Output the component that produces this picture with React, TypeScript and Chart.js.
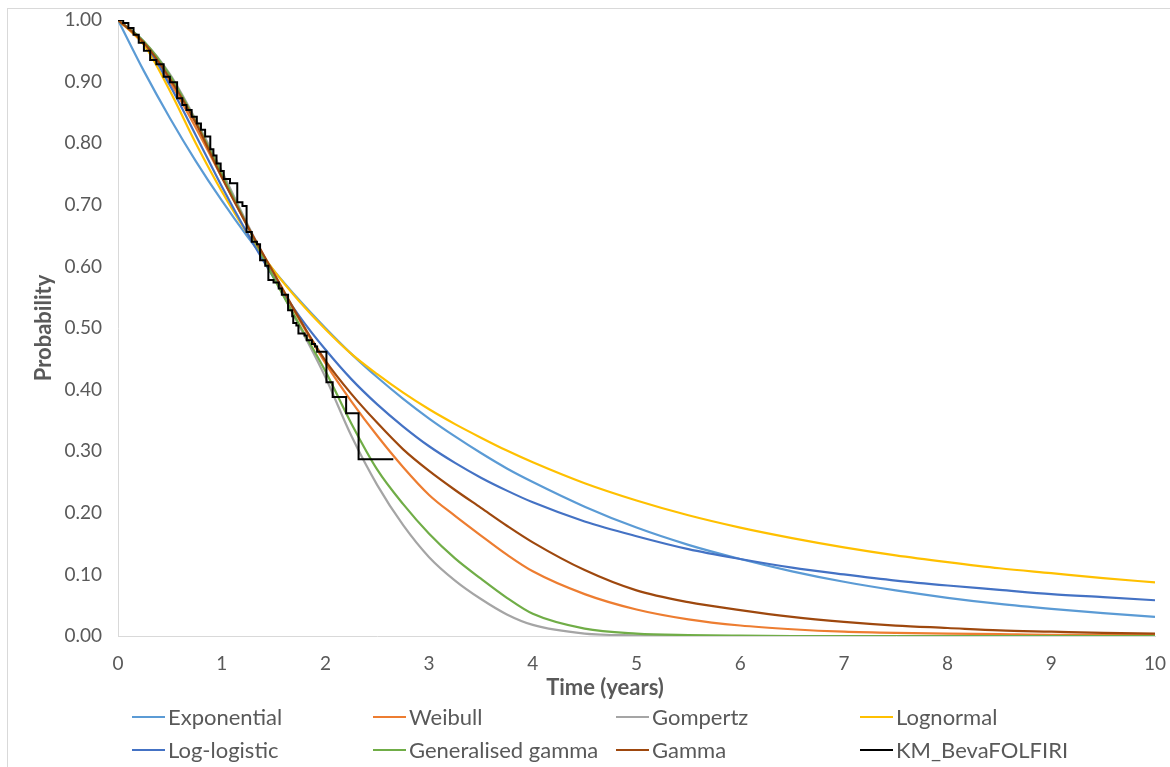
import React, { useEffect, useRef } from "react";
import { Chart, registerables } from "chart.js";

Chart.register(...registerables);

const FONT = "Lato, 'Open Sans', sans-serif";
const TEXT_COLOR = "#595959";

// Time grid (years) at which the fitted curves were read
const timeGrid = [0, 0.25, 0.5, 0.75, 1, 1.25, 1.5, 1.75, 2, 2.25, 2.5, 2.75, 3, 3.25, 3.5, 3.75, 4, 4.5, 5, 5.5, 6, 6.5, 7, 7.5, 8, 8.5, 9, 9.5, 10];

const exponential = [1, 0.917, 0.841, 0.771, 0.707, 0.648, 0.594, 0.545, 0.5, 0.458, 0.42, 0.385, 0.353, 0.324, 0.297, 0.272, 0.25, 0.21, 0.176, 0.148, 0.125, 0.105, 0.088, 0.074, 0.062, 0.052, 0.044, 0.037, 0.031];
const weibull = [1, 0.96, 0.9, 0.825, 0.745, 0.665, 0.588, 0.513, 0.443, 0.381, 0.325, 0.274, 0.229, 0.195, 0.163, 0.132, 0.105, 0.068, 0.043, 0.027, 0.017, 0.011, 0.007, 0.005, 0.004, 0.003, 0.002, 0.002, 0.002];
const gompertz = [1, 0.965, 0.912, 0.838, 0.755, 0.668, 0.585, 0.503, 0.42, 0.325, 0.245, 0.18, 0.128, 0.09, 0.06, 0.035, 0.018, 0.004, 0.001, 0, 0, 0, 0, 0, 0, 0, 0, 0, 0];
const lognormal = [1, 0.96, 0.885, 0.8, 0.722, 0.653, 0.594, 0.543, 0.498, 0.458, 0.425, 0.395, 0.368, 0.344, 0.322, 0.301, 0.282, 0.248, 0.22, 0.196, 0.176, 0.159, 0.144, 0.131, 0.12, 0.11, 0.102, 0.094, 0.087];
const logLogistic = [1, 0.964, 0.894, 0.813, 0.73, 0.653, 0.582, 0.519, 0.465, 0.417, 0.376, 0.34, 0.308, 0.281, 0.257, 0.236, 0.217, 0.186, 0.162, 0.141, 0.125, 0.111, 0.1, 0.09, 0.082, 0.075, 0.068, 0.063, 0.058];
const generalisedGamma = [1, 0.965, 0.91, 0.835, 0.75, 0.665, 0.582, 0.505, 0.43, 0.345, 0.27, 0.214, 0.166, 0.126, 0.093, 0.062, 0.036, 0.012, 0.004, 0.0015, 0.0005, 0, 0, 0, 0, 0, 0, 0, 0];
const gamma = [1, 0.963, 0.905, 0.833, 0.745, 0.665, 0.59, 0.515, 0.447, 0.393, 0.346, 0.303, 0.268, 0.237, 0.208, 0.179, 0.152, 0.107, 0.074, 0.055, 0.042, 0.031, 0.023, 0.017, 0.013, 0.009, 0.007, 0.005, 0.004];

// Kaplan-Meier step function (event times, survival after event)
const kmTimes = [0, 0.05, 0.1, 0.15, 0.2, 0.25, 0.31, 0.37, 0.44, 0.5, 0.57, 0.62, 0.66, 0.71, 0.76, 0.8, 0.84, 0.89, 0.92, 0.95, 0.99, 1.02, 1.08, 1.15, 1.2, 1.24, 1.29, 1.34, 1.37, 1.42, 1.45, 1.5, 1.55, 1.58, 1.64, 1.68, 1.69, 1.72, 1.74, 1.8, 1.82, 1.87, 1.9, 1.92, 2.01, 2.07, 2.2, 2.32, 2.655];
const kmSurvival = [1, 0.995, 0.987, 0.976, 0.963, 0.95, 0.935, 0.928, 0.908, 0.899, 0.873, 0.862, 0.854, 0.843, 0.832, 0.822, 0.811, 0.79, 0.78, 0.767, 0.755, 0.742, 0.735, 0.704, 0.698, 0.656, 0.64, 0.636, 0.61, 0.601, 0.578, 0.574, 0.564, 0.554, 0.529, 0.519, 0.508, 0.504, 0.491, 0.488, 0.48, 0.474, 0.47, 0.4615, 0.412, 0.388, 0.3615, 0.287, 0.287];

const xTickValues = [0, 1, 2, 3, 4, 5, 6, 7, 8, 9, 10];

const seriesNames = ["Exponential", "Weibull", "Gompertz", "Lognormal", "Log-logistic", "Generalised gamma", "Gamma", "KM_BevaFOLFIRI"];
const seriesColors = ["#5B9BD5", "#ED7D31", "#A5A5A5", "#FFC000", "#4472C4", "#70AD47", "#9E480E", "#000000"];
const curveValues = [exponential, weibull, gompertz, lognormal, logLogistic, generalisedGamma, gamma];

export default function App() {
  const ref = useRef<HTMLCanvasElement>(null);

  useEffect(() => {
    document.body.style.margin = "0";
    document.body.style.overflow = "hidden";
    const canvas = ref.current;
    if (!canvas) return;

    const curveSets = curveValues.map((vals, i) => ({
      label: seriesNames[i],
      data: timeGrid.map((t, j) => ({ x: t, y: vals[j] })),
      borderColor: seriesColors[i],
      backgroundColor: seriesColors[i],
      borderWidth: 2.2,
      pointRadius: 0,
      cubicInterpolationMode: "monotone" as const,
      fill: false,
      order: 10 - i,
    }));
    const kmSet = {
      label: seriesNames[7],
      data: kmTimes.map((t, j) => ({ x: t, y: kmSurvival[j] })),
      borderColor: seriesColors[7],
      backgroundColor: seriesColors[7],
      borderWidth: 2,
      pointRadius: 0,
      stepped: true as const,
      fill: false,
      order: 1,
    };

    const chart = new Chart(canvas, {
      type: "line",
      data: { datasets: [...curveSets, kmSet] as any },
      options: {
        responsive: false,
        animation: false,
        devicePixelRatio: 1,
        layout: { padding: { left: 47, top: 11, right: 15, bottom: 65.8 } },
        plugins: {
          legend: { display: false },
          tooltip: { enabled: false },
          title: {
            display: true,
            position: "bottom",
            text: "Time (years)",
            color: TEXT_COLOR,
            font: { family: FONT, size: 22, weight: "bold" },
            padding: { top: -21.2, bottom: 0 },
          },
        },
        scales: {
          x: {
            type: "linear",
            min: 0,
            max: 10,
            afterBuildTicks: (s: any) => {
              s.ticks = xTickValues.map((v) => ({ value: v }));
            },
            afterFit: (s: any) => {
              s.height = 60;
              s.paddingLeft = 0;
              s.paddingRight = 0;
            },
            grid: { display: false, drawTicks: false },
            border: { display: true, color: "#D9D9D9", width: 1 },
            ticks: { color: TEXT_COLOR, font: { family: FONT, size: 19 }, padding: 16, maxRotation: 0 },
          },
          y: {
            min: 0,
            max: 1,
            afterFit: (s: any) => {
              s.width = 63;
              s.paddingTop = 0;
              s.paddingBottom = 0;
            },
            grid: { display: false, drawTicks: false },
            border: { display: true, color: "#D9D9D9", width: 1 },
            ticks: {
              stepSize: 0.1,
              color: TEXT_COLOR,
              font: { family: FONT, size: 19 },
              padding: 16,
              callback: (v: any) => Number(v).toFixed(2),
            },
            title: {
              display: true,
              text: "Probability",
              color: TEXT_COLOR,
              font: { family: FONT, size: 22, weight: "bold" },
              padding: { top: -24, bottom: 0 },
            },
          },
        },
      },
    });
    return () => chart.destroy();
  }, []);

  const legendCols = [132, 373, 616, 860];
  const legendRows = [717, 750];

  return (
    <div style={{ position: "fixed", left: 0, top: 0, width: 1170, height: 767, overflow: "hidden", background: "#fff", fontFamily: FONT }}>
      <div style={{ position: "absolute", left: 7, top: 8, width: 1200, height: 800, border: "1px solid #D9D9D9", boxSizing: "border-box" }} />
      <canvas ref={ref} width={1162} height={758} style={{ position: "absolute", left: 8, top: 9, width: 1162, height: 758 }} />
      {seriesNames.map((name, i) => {
        const left = legendCols[i % 4];
        const cy = legendRows[Math.floor(i / 4)];
        return (
          <div key={name} style={{ position: "absolute", left, top: cy - 14, height: 28, display: "flex", alignItems: "center", whiteSpace: "nowrap" }}>
            <div style={{ width: 33, height: 2.5, background: seriesColors[i], marginRight: 3 }} />
            <span style={{ fontSize: 22, color: TEXT_COLOR, lineHeight: "28px" }}>{name}</span>
          </div>
        );
      })}
    </div>
  );
}
